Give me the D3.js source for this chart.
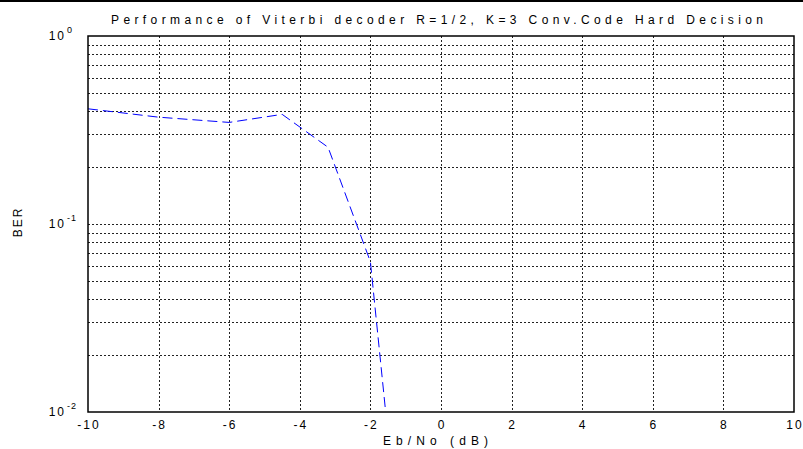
<!DOCTYPE html>
<html>
<head>
<meta charset="utf-8">
<script src="https://cdn.jsdelivr.net/npm/d3@7"></script>
<style>
  body { margin: 0; background: #fff; }
  svg text { font-family: "Liberation Sans", Arial, sans-serif; fill: #000; }
</style>
</head>
<body>
<svg width="803" height="449"></svg>
<script>
// data
const ebno = [-10, -8, -6, -4.5, -3.2, -2, -1.5];
const ber = [0.41, 0.37, 0.347, 0.383, 0.256, 0.063, 0.0075];
const xTicks = [-10, -8, -6, -4, -2, 0, 2, 4, 6, 8, 10];
const yDecades = [-2, -1, 0];
const titleText = "Performance of Viterbi decoder R=1/2, K=3 Conv.Code Hard Decision";
const xLabelText = "Eb/No (dB)";
const yLabelText = "BER";

const svg = d3.select("svg");
const padL = 88, padR = 794, padT = 36, padB = 412;

const x = d3.scaleLinear().domain([-10, 10]).range([padL, padR]);
const y = d3.scaleLog().domain([0.01, 1]).range([padB, padT]);

// top border line of the figure
svg.append("line")
    .attr("x1", 0).attr("x2", 803)
    .attr("y1", 1).attr("y2", 1)
    .attr("stroke", "#000").attr("stroke-width", 2);

// grid
const minor = [];
yDecades.slice(0, -1).forEach(d => {
    for (let m = 1; m <= 9; m++) minor.push(m * Math.pow(10, d));
});
const grid = svg.append("g");
grid.selectAll(".hg")
    .data(minor.filter(v => v > 0.01))
    .enter().append("line")
    .attr("x1", padL).attr("x2", padR)
    .attr("y1", d => Math.round(y(d)) + 0.5).attr("y2", d => Math.round(y(d)) + 0.5)
    .attr("stroke", "#222").attr("stroke-width", 1)
    .attr("stroke-dasharray", "2,2");
grid.selectAll(".vg")
    .data(xTicks.slice(1, -1))
    .enter().append("line")
    .attr("x1", d => Math.round(x(d)) + 0.5).attr("x2", d => Math.round(x(d)) + 0.5)
    .attr("y1", padT).attr("y2", padB)
    .attr("stroke", "#222").attr("stroke-width", 1)
    .attr("stroke-dasharray", "2,2");

// curve
svg.append("defs").append("clipPath").attr("id", "clip")
    .append("rect").attr("x", padL).attr("y", padT)
    .attr("width", padR - padL).attr("height", padB - padT);

const line = d3.line().x((d, i) => x(ebno[i])).y(d => y(d));
svg.append("path")
    .datum(ber)
    .attr("clip-path", "url(#clip)")
    .attr("d", line)
    .attr("fill", "none")
    .attr("stroke", "#0000ff")
    .attr("stroke-width", 1)
    .attr("stroke-dasharray", "10,5");

// frame
svg.append("rect")
    .attr("x", padL).attr("y", padT)
    .attr("width", padR - padL).attr("height", padB - padT)
    .attr("fill", "none").attr("stroke", "#000").attr("stroke-width", 1.5);

// x tick labels
svg.selectAll(".xt")
    .data(xTicks)
    .enter().append("text")
    .attr("x", d => x(d) + 1)
    .attr("y", 429)
    .attr("text-anchor", "middle")
    .style("font-size", "12px")
    .style("letter-spacing", "2px")
    .text(d => d);

// y tick labels 10^n
yDecades.forEach(d => {
    const yy = y(Math.pow(10, d));
    svg.append("text")
        .attr("x", 66).attr("y", yy + 4)
        .attr("text-anchor", "end")
        .style("font-size", "12px")
        .style("letter-spacing", "2px")
        .text("10");
    svg.append("text")
        .attr("x", 67).attr("y", yy - 3)
        .style("font-size", "9px")
        .style("letter-spacing", "1px")
        .text(d === 0 ? "0" : d);
});

// title
svg.append("text")
    .attr("x", 111).attr("y", 24)
    .attr("textLength", 652).attr("lengthAdjust", "spacing")
    .style("font-size", "12px")
    .text(titleText);

// x label
svg.append("text")
    .attr("x", 383).attr("y", 445)
    .attr("textLength", 105).attr("lengthAdjust", "spacing")
    .style("font-size", "12px")
    .text(xLabelText);

// y label
svg.append("text")
    .attr("transform", "translate(22, 222) rotate(-90)")
    .attr("text-anchor", "middle")
    .style("font-size", "12px")
    .style("letter-spacing", "2px")
    .text(yLabelText);
</script>
</body>
</html>
